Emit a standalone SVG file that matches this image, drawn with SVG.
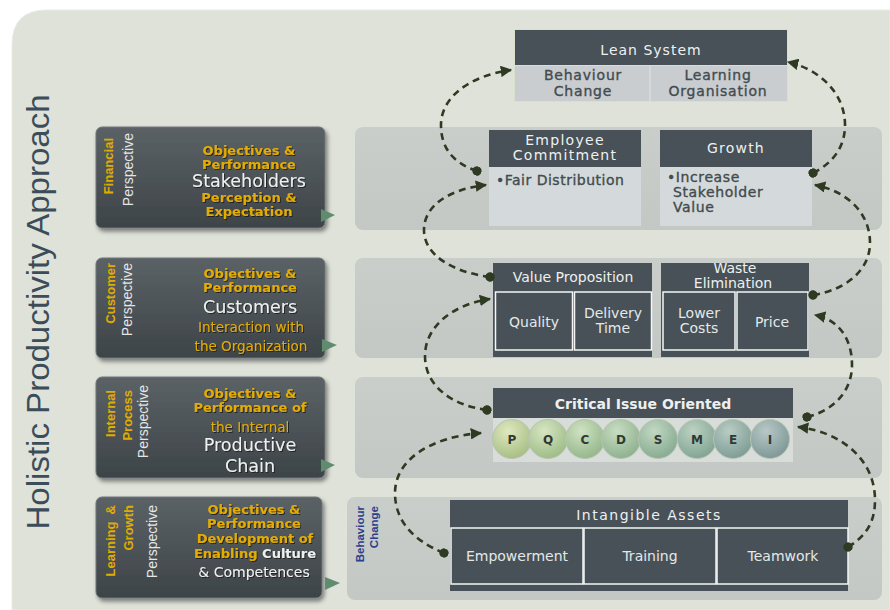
<svg xmlns="http://www.w3.org/2000/svg" width="890" height="610" viewBox="0 0 890 610">
<defs>
<linearGradient id="boxg" x1="0" y1="0" x2="0" y2="1"><stop offset="0" stop-color="#5b6266"/><stop offset="1" stop-color="#3d4448"/></linearGradient>
<linearGradient id="bandg" x1="0" y1="0" x2="0" y2="1"><stop offset="0" stop-color="#c9cecb"/><stop offset="1" stop-color="#c3c8c5"/></linearGradient>
<filter id="sh" x="-5%" y="-5%" width="115%" height="120%"><feDropShadow dx="2" dy="3" stdDeviation="2" flood-color="#000" flood-opacity="0.45"/></filter>
<filter id="tsh" x="-10%" y="-20%" width="120%" height="150%"><feDropShadow dx="1" dy="1" stdDeviation="0.6" flood-color="#1a1a1a" flood-opacity="0.9"/></filter>
<radialGradient id="c1" cx="0.4" cy="0.3" r="0.7"><stop offset="0" stop-color="#dfe8c0"/><stop offset="1" stop-color="#a9bf85"/></radialGradient>
<radialGradient id="c2" cx="0.4" cy="0.3" r="0.7"><stop offset="0" stop-color="#d6e6c2"/><stop offset="1" stop-color="#9fbd88"/></radialGradient>
<radialGradient id="c3" cx="0.4" cy="0.3" r="0.7"><stop offset="0" stop-color="#cfe2c2"/><stop offset="1" stop-color="#96b88c"/></radialGradient>
<radialGradient id="c4" cx="0.4" cy="0.3" r="0.7"><stop offset="0" stop-color="#c8ddc2"/><stop offset="1" stop-color="#8fb28f"/></radialGradient>
<radialGradient id="c5" cx="0.4" cy="0.3" r="0.7"><stop offset="0" stop-color="#c2d8c2"/><stop offset="1" stop-color="#88ac93"/></radialGradient>
<radialGradient id="c6" cx="0.4" cy="0.3" r="0.7"><stop offset="0" stop-color="#bcd2c2"/><stop offset="1" stop-color="#83a595"/></radialGradient>
<radialGradient id="c7" cx="0.4" cy="0.3" r="0.7"><stop offset="0" stop-color="#b8ccc4"/><stop offset="1" stop-color="#7f9e97"/></radialGradient>
<radialGradient id="c8" cx="0.4" cy="0.3" r="0.7"><stop offset="0" stop-color="#b8c8c6"/><stop offset="1" stop-color="#7f9998"/></radialGradient>
<marker id="arr" viewBox="0 0 10 10" refX="9" refY="5" markerWidth="4.4" markerHeight="4.4" orient="auto" markerUnits="strokeWidth"><path d="M0,0 L10,5 L0,10 z" fill="#2e3a22"/></marker>
<marker id="dot" viewBox="0 0 10 10" refX="5" refY="5" markerWidth="3.6" markerHeight="3.6" orient="auto" markerUnits="strokeWidth"><circle cx="5" cy="5" r="5" fill="#2e3a22"/></marker>
</defs>
<style>
.bg{fill:#dee2d8}
.pbox{fill:url(#boxg);stroke:#70777a;stroke-width:1}
.band{fill:url(#bandg)}
.ptr{fill:#5f8c6e}
.vy{font-family:"Liberation Sans",Arial,sans-serif;font-weight:bold;font-size:13px;fill:#e0ac00}
.vw{font-family:"Liberation Sans",Arial,sans-serif;font-size:14px;fill:#e4e6e6}
.ty{font-family:"DejaVu Sans",Verdana,sans-serif;font-weight:bold;font-size:13px;fill:#e3ac00;text-anchor:middle;filter:url(#tsh)}
.tn{font-family:"DejaVu Sans",Verdana,sans-serif;font-size:13.5px;fill:#e3ac00;text-anchor:middle;filter:url(#tsh)}
.tw{font-family:"DejaVu Sans",Verdana,sans-serif;font-size:17.5px;fill:#eef0f0;text-anchor:middle;filter:url(#tsh)}
.hd{fill:#475157}
.lt{fill:#d4dadb}
.cell{fill:#475157;stroke:#f4f6f6;stroke-width:1.5}
.ht{font-family:"DejaVu Sans",Verdana,sans-serif;font-size:14px;fill:#eef0f0;text-anchor:middle}
.ct{font-family:"DejaVu Sans",Verdana,sans-serif;font-size:14px;fill:#e4e8e8;text-anchor:middle}
.dt{font-family:"DejaVu Sans",Verdana,sans-serif;font-size:14px;fill:#434b4e;stroke:#434b4e;stroke-width:0.35}
.cl{font-family:"DejaVu Sans",Verdana,sans-serif;font-weight:bold;font-size:12px;fill:#2f3a36;text-anchor:middle}
.con{fill:none;stroke:#2e3a22;stroke-width:2.6;stroke-dasharray:7 5;marker-start:url(#dot);marker-end:url(#arr)}
</style>
<rect width="890" height="610" fill="#ffffff"/>
<path class="bg" d="M12,45 Q12,10 47,10 L890,10 L890,610 L12,610 z" stroke="#e9ece4" stroke-width="1"/>
<text transform="translate(49,312) rotate(-90)" text-anchor="middle" font-family="Liberation Sans, Arial, sans-serif" font-size="32" fill="#3b4d5a" textLength="435" lengthAdjust="spacingAndGlyphs">Holistic Productivity Approach</text>

<g id="band-financial"><rect class="band" x="355" y="127" width="527" height="103" rx="8"/></g>
<g id="band-customer"><rect class="band" x="355" y="258" width="527" height="100" rx="8"/></g>
<g id="band-internal"><rect class="band" x="355" y="377" width="527" height="101" rx="8"/></g>
<g id="band-learning"><rect class="band" x="347" y="497" width="535" height="103" rx="8"/>
<text transform="translate(364,506) rotate(-90)" text-anchor="end" font-family="Liberation Sans, Arial, sans-serif" font-size="11.5" font-weight="bold" fill="#2b3f8c">Behaviour</text>
<text transform="translate(378,506) rotate(-90)" text-anchor="end" font-family="Liberation Sans, Arial, sans-serif" font-size="11.5" font-weight="bold" fill="#2b3f8c">Change</text>
</g>

<g id="financial-perspective">
<rect class="pbox" x="96" y="127" width="229" height="101" rx="6" filter="url(#sh)"/>
<path class="ptr" d="M321,209 L335,215 L321,222 z"/>
<text class="vy" transform="translate(113,138) rotate(-90)" text-anchor="end">Financial</text>
<text class="vw" transform="translate(133,133) rotate(-90)" text-anchor="end">Perspective</text>
<text class="ty" x="249" y="155">Objectives &amp;</text>
<text class="ty" x="249" y="169">Performance</text>
<text class="tw" x="249" y="187">Stakeholders</text>
<text class="ty" x="249" y="202">Perception &amp;</text>
<text class="ty" x="249" y="216">Expectation</text>
</g>

<g id="customer-perspective">
<rect class="pbox" x="96" y="258" width="229" height="100" rx="6" filter="url(#sh)"/>
<path class="ptr" d="M322,339 L337,345 L322,352 z"/>
<text class="vy" transform="translate(115,263) rotate(-90)" text-anchor="end">Customer</text>
<text class="vw" transform="translate(132,263) rotate(-90)" text-anchor="end">Perspective</text>
<text class="ty" x="250" y="278">Objectives &amp;</text>
<text class="ty" x="250" y="292">Performance</text>
<text class="tw" x="250" y="313">Customers</text>
<text class="tn" x="251" y="332">Interaction with</text>
<text class="tn" x="251" y="351">the Organization</text>
</g>

<g id="internal-perspective">
<rect class="pbox" x="96" y="377" width="229" height="101" rx="6" filter="url(#sh)"/>
<path class="ptr" d="M321,459 L335,465 L321,472 z"/>
<text class="vy" transform="translate(115,390) rotate(-90)" text-anchor="end">Internal</text>
<text class="vy" transform="translate(132,390) rotate(-90)" text-anchor="end">Process</text>
<text class="vw" transform="translate(148,385) rotate(-90)" text-anchor="end">Perspective</text>
<text class="ty" x="250" y="398">Objectives &amp;</text>
<text class="ty" x="250" y="412">Performance of</text>
<text class="tn" x="250" y="432">the Internal</text>
<text class="tw" x="250" y="451" font-size="17">Productive</text>
<text class="tw" x="250" y="472" font-size="17">Chain</text>
</g>

<g id="learning-perspective">
<rect class="pbox" x="96" y="497" width="226" height="101" rx="6" filter="url(#sh)"/>
<path class="ptr" d="M325,577 L340,583 L325,590 z"/>
<text class="vy" transform="translate(115,505) rotate(-90)" text-anchor="end" xml:space="preserve">Learning  &amp;</text>
<text class="vy" transform="translate(133,505) rotate(-90)" text-anchor="end">Growth</text>
<text class="vw" transform="translate(157,505) rotate(-90)" text-anchor="end">Perspective</text>
<text class="ty" x="254" y="514">Objectives &amp;</text>
<text class="ty" x="254" y="528">Performance</text>
<text class="ty" x="255" y="543">Development of</text>
<text class="ty" x="255" y="558">Enabling<tspan fill="#eef0f0"> Culture</tspan></text>
<text class="tw" x="254" y="577" style="font-size:14px">&amp; Competences</text>
</g>

<g id="lean-system">
<rect x="514" y="29" width="274" height="73" fill="#d9e0c8"/>
<rect class="hd" x="515" y="30" width="272" height="35"/>
<rect fill="#c9cdd0" x="515" y="66" width="272" height="35"/>
<line x1="650" y1="66" x2="650" y2="101" stroke="#e2e5e6" stroke-width="1"/>
<text class="ht" x="651" y="55" font-size="17.5" letter-spacing="1" fill="#e2e6e6">Lean System</text>
<text class="dt" x="583" y="80" text-anchor="middle" letter-spacing="0.8">Behaviour</text>
<text class="dt" x="583" y="96" text-anchor="middle" letter-spacing="0.8">Change</text>
<text class="dt" x="718" y="80" text-anchor="middle" letter-spacing="0.8">Learning</text>
<text class="dt" x="718" y="96" text-anchor="middle" letter-spacing="0.8">Organisation</text>
</g>

<g id="employee-commitment">
<rect class="hd" x="489" y="130" width="152" height="37"/>
<rect class="lt" x="489" y="167" width="152" height="59"/>
<text class="ht" x="565" y="145" font-size="13" letter-spacing="1.3" fill="#c8cfd0">Employee</text>
<text class="ht" x="565" y="160" font-size="13" letter-spacing="1.3" fill="#c8cfd0">Commitment</text>
<text class="dt" x="496" y="185" font-size="13" letter-spacing="0.5">•Fair Distribution</text>
</g>

<g id="growth">
<rect class="hd" x="660" y="130" width="152" height="37"/>
<rect class="lt" x="660" y="167" width="152" height="59"/>
<text class="ht" x="736" y="153" font-size="13.5" letter-spacing="1.2" fill="#c8cfd0">Growth</text>
<text class="dt" x="667" y="182" font-size="12.5" letter-spacing="0.6">•Increase</text>
<text class="dt" x="673" y="197" font-size="12.5" letter-spacing="0.6">Stakeholder</text>
<text class="dt" x="673" y="212" font-size="12.5" letter-spacing="0.6">Value</text>
</g>

<g id="value-proposition">
<rect class="hd" x="493" y="263" width="159" height="94"/>
<rect class="cell" x="495.5" y="292" width="77" height="58"/>
<rect class="cell" x="574.5" y="292" width="77" height="58"/>
<text class="ht" x="573" y="282">Value Proposition</text>
<text class="ct" x="534" y="327">Quality</text>
<text class="ct" x="613" y="318" font-size="13">Delivery</text>
<text class="ct" x="613" y="333" font-size="13">Time</text>
</g>

<g id="waste-elimination">
<rect class="hd" x="661" y="263" width="148" height="94"/>
<rect class="cell" x="663" y="292" width="72" height="58"/>
<rect class="cell" x="737" y="292" width="71" height="58"/>
<text class="ht" x="735" y="273" font-size="13">Waste</text>
<text class="ht" x="733" y="288" font-size="13">Elimination</text>
<text class="ct" x="699" y="318" font-size="13">Lower</text>
<text class="ct" x="699" y="333" font-size="13">Costs</text>
<text class="ct" x="772" y="327">Price</text>
</g>

<g id="critical-issue">
<rect class="hd" x="493" y="388" width="300" height="30"/>
<rect fill="#d8ddd9" x="493" y="418" width="300" height="44"/>
<text class="ht" x="643" y="409" font-size="15.5" font-weight="bold">Critical Issue Oriented</text>
<g stroke="#b7c3b2" stroke-width="1">
<circle cx="512" cy="439" r="19.5" fill="url(#c1)"/>
<circle cx="548" cy="439" r="19.5" fill="url(#c2)"/>
<circle cx="585" cy="439" r="19.5" fill="url(#c3)"/>
<circle cx="621" cy="439" r="19.5" fill="url(#c4)"/>
<circle cx="658" cy="439" r="19.5" fill="url(#c5)"/>
<circle cx="697" cy="439" r="19.5" fill="url(#c6)"/>
<circle cx="733" cy="439" r="19.5" fill="url(#c7)"/>
<circle cx="770" cy="439" r="19.5" fill="url(#c8)"/>
</g>
<text class="cl" x="512" y="444">P</text>
<text class="cl" x="548" y="444">Q</text>
<text class="cl" x="585" y="444">C</text>
<text class="cl" x="621" y="444">D</text>
<text class="cl" x="658" y="444">S</text>
<text class="cl" x="697" y="444">M</text>
<text class="cl" x="733" y="444">E</text>
<text class="cl" x="770" y="444">I</text>
</g>

<g id="intangible-assets">
<rect class="hd" x="450" y="500" width="398" height="91"/>
<rect class="cell" x="451" y="528" width="132" height="56"/>
<rect class="cell" x="584" y="528" width="132" height="56"/>
<rect class="cell" x="717" y="528" width="131" height="56"/>
<text class="ht" x="649" y="520" font-size="17" letter-spacing="1.5">Intangible Assets</text>
<text class="ct" x="517" y="561" font-size="15">Empowerment</text>
<text class="ct" x="650" y="561" font-size="15">Training</text>
<text class="ct" x="783" y="561" font-size="15">Teamwork</text>
</g>

<g id="connectors">
<path class="con" d="M477,171 C450,162 441,145 441,125 C441,98 468,76 511,70"/>
<path class="con" d="M490,277 C452,272 424,255 424,230 C424,205 450,189 486,185"/>
<path class="con" d="M487,410 C450,405 425,385 425,356 C425,325 455,304 490,299"/>
<path class="con" d="M444,553 C412,540 395,520 395,493 C395,460 430,437 481,433"/>
<path class="con" d="M813,173 C835,162 845,145 845,125 C845,95 822,70 788,62"/>
<path class="con" d="M813,295 C846,290 870,270 870,243 C870,212 846,191 815,185"/>
<path class="con" d="M807,417 C835,410 852,390 852,365 C852,340 840,320 815,315"/>
<path class="con" d="M848,547 C868,535 875,520 875,500 C875,460 842,432 798,427"/>
</g>
</svg>
